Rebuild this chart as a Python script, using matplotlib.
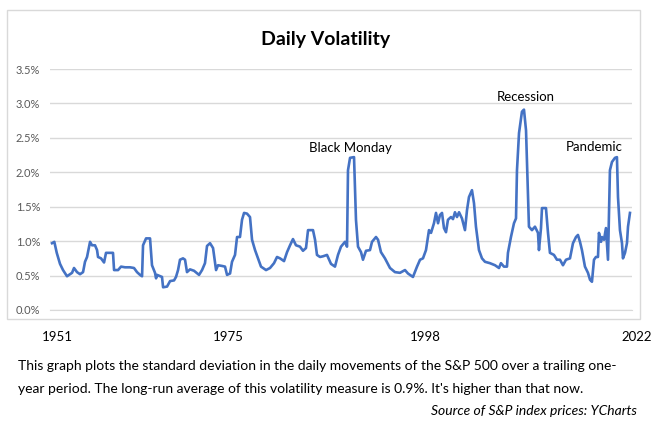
import numpy as np
import matplotlib
matplotlib.use('Agg')
import matplotlib.pyplot as plt
from matplotlib.patches import Rectangle
from matplotlib.ticker import FuncFormatter

plt.rcParams['font.family'] = ['Lato', 'DejaVu Sans']

# trailing one-year std dev of daily S&P 500 moves, in percent
years = [1951.0, 1951.28, 1951.58, 1951.98, 1952.35, 1952.84, 1953.46, 1953.70, 1954.07, 1954.44,
         1954.81, 1955.05, 1955.30, 1955.67, 1955.91, 1956.28, 1956.53, 1956.65, 1957.02, 1957.39,
         1957.63, 1958.12, 1958.49, 1958.62, 1959.11, 1959.48, 1959.97, 1960.58, 1961.07, 1961.44,
         1961.81, 1962.06, 1962.18, 1962.55, 1963.04, 1963.28, 1963.65, 1963.78, 1963.90, 1964.51,
         1964.64, 1965.13, 1965.50, 1965.99, 1966.23, 1966.48, 1966.72, 1967.09, 1967.34, 1967.58,
         1967.95, 1968.44, 1969.06, 1969.43, 1969.79, 1970.04, 1970.41, 1970.78, 1971.15, 1971.39,
         1971.88, 1972.25, 1972.50, 1972.87, 1973.11, 1973.48, 1973.73, 1974.09, 1974.34, 1974.59,
         1974.95, 1975.32, 1975.57, 1975.94, 1976.31, 1976.67, 1977.29, 1977.78, 1978.27, 1978.64,
         1979.01, 1979.50, 1979.87, 1980.24, 1980.60, 1980.97, 1981.46, 1981.83, 1982.20, 1982.45,
         1983.06, 1983.31, 1983.55, 1983.92, 1984.29, 1984.78, 1985.27, 1985.76, 1986.13, 1986.50,
         1986.99, 1987.24, 1987.36, 1987.61, 1988.10, 1988.34, 1988.59, 1988.96, 1989.20, 1989.57,
         1990.06, 1990.31, 1990.80, 1991.05, 1991.41, 1991.90, 1992.52, 1993.13, 1993.75, 1994.36,
         1994.73, 1995.34, 1995.84, 1996.21, 1996.57, 1996.94, 1997.31, 1997.56, 1997.92, 1998.17,
         1998.42, 1998.66, 1998.91, 1999.15, 1999.40, 1999.64, 2000.01, 2000.26, 2000.50, 2000.75,
         2001.00, 2001.36, 2001.73, 2001.98, 2002.22, 2002.59, 2002.84, 2003.08, 2003.45, 2003.82,
         2004.19, 2004.80, 2005.42, 2005.91, 2006.15, 2006.52, 2006.89, 2007.01, 2007.38, 2007.75,
         2008.00, 2008.12, 2008.37, 2008.73, 2008.98, 2009.23, 2009.47, 2009.59, 2009.96, 2010.33,
         2010.70, 2010.82, 2011.07, 2011.19, 2011.68, 2011.93, 2012.17, 2012.66, 2013.03, 2013.40,
         2013.77, 2014.14, 2014.63, 2015.00, 2015.37, 2015.61, 2015.86, 2016.10, 2016.47, 2016.84,
         2017.09, 2017.33, 2017.58, 2017.82, 2018.07, 2018.19, 2018.44, 2018.56, 2018.81, 2019.05,
         2019.30, 2019.54, 2019.79, 2020.16, 2020.40, 2020.53, 2020.77, 2021.02, 2021.14, 2021.39,
         2021.63, 2021.76, 2022.0]
vol = [0.97, 0.99, 0.83, 0.67, 0.58, 0.49, 0.54, 0.61, 0.55, 0.52,
       0.55, 0.70, 0.77, 0.99, 0.94, 0.94, 0.87, 0.77, 0.75, 0.69,
       0.83, 0.83, 0.83, 0.58, 0.58, 0.63, 0.62, 0.62, 0.61, 0.55,
       0.51, 0.49, 0.94, 1.04, 1.04, 0.65, 0.54, 0.46, 0.51, 0.48,
       0.33, 0.34, 0.42, 0.43, 0.48, 0.58, 0.73, 0.75, 0.73, 0.55,
       0.59, 0.57, 0.51, 0.58, 0.68, 0.93, 0.97, 0.90, 0.58, 0.65,
       0.64, 0.63, 0.51, 0.53, 0.70, 0.80, 1.06, 1.06, 1.31, 1.41,
       1.40, 1.35, 1.02, 0.87, 0.75, 0.63, 0.58, 0.61, 0.68, 0.77,
       0.75, 0.71, 0.84, 0.94, 1.03, 0.94, 0.92, 0.86, 0.90, 1.16,
       1.16, 1.02, 0.80, 0.77, 0.78, 0.80, 0.67, 0.63, 0.80, 0.92,
       0.99, 0.92, 2.03, 2.21, 2.22, 1.31, 0.92, 0.84, 0.73, 0.86,
       0.87, 0.99, 1.06, 1.02, 0.84, 0.75, 0.61, 0.55, 0.54, 0.58,
       0.53, 0.48, 0.63, 0.73, 0.75, 0.87, 1.16, 1.12, 1.26, 1.41,
       1.26, 1.38, 1.41, 1.19, 1.13, 1.31, 1.35, 1.32, 1.42, 1.35,
       1.42, 1.33, 1.16, 1.45, 1.64, 1.74, 1.55, 1.21, 0.87, 0.75,
       0.70, 0.68, 0.65, 0.61, 0.68, 0.63, 0.63, 0.83, 1.06, 1.26,
       1.33, 2.03, 2.57, 2.88, 2.91, 2.61, 1.70, 1.21, 1.16, 1.21,
       1.12, 0.87, 1.19, 1.48, 1.48, 1.12, 0.83, 0.80, 0.73, 0.73,
       0.65, 0.73, 0.75, 0.97, 1.06, 1.09, 0.99, 0.87, 0.63, 0.54,
       0.44, 0.41, 0.73, 0.77, 0.77, 1.12, 0.99, 1.06, 1.02, 1.19,
       0.73, 2.03, 2.15, 2.21, 2.22, 1.64, 1.16, 0.97, 0.75, 0.83,
       0.97, 1.21, 1.41]

events = ['Black Monday', 'Recession', 'Pandemic']
event_x = [1987.6, 2009.2, 2017.6]
event_y = [2.35, 3.09, 2.37]

year_labels = ['1951', '1975', '1998', '2022']

W, H = 651, 432
fig = plt.figure(figsize=(W / 100, H / 100), dpi=100)
fig.patch.set_facecolor('white')

# light chart frame like the Excel chart area
fig.patches.append(Rectangle((7 / W, 1 - 319 / H), 633 / W, 309 / H, transform=fig.transFigure,
                             fill=False, edgecolor='#d9d9d9', linewidth=1.0))

ax = fig.add_axes([50 / W, 1 - 310 / H, 582 / W, 241 / H])
ax.plot(years, vol, color='#4472c4', linewidth=1.9, solid_joinstyle='round')
ax.set_ylim(0, 3.5)
ax.set_xlim(1950.75, 2022.25)
ax.set_yticks(np.arange(0, 3.51, 0.5))
ax.yaxis.set_major_formatter(FuncFormatter(lambda v, p: '%.1f%%' % v))
ax.set_xticks([])
ax.grid(axis='y', color='#d9d9d9', linewidth=1.0)
ax.set_axisbelow(True)
for s in ['top', 'right', 'left']:
    ax.spines[s].set_visible(False)
ax.spines['bottom'].set_color('#d9d9d9')
ax.tick_params(axis='y', length=0, labelsize=8, labelcolor='#595959', pad=7)

for name, ex, ey in zip(events, event_x, event_y):
    ax.text(ex, ey, name, ha='center', va='center', fontsize=9.5, color='black')

fig.text(326 / W, 1 - 40 / H, 'Daily Volatility', ha='center', va='center',
         fontsize=14, fontweight='bold')

label_px = [57, 228, 425, 637]
for lab, px in zip(year_labels, label_px):
    fig.text(px / W, 1 - 337 / H, lab, ha='center', va='center', fontsize=9.5)

fig.text(18 / W, 1 - 366 / H,
         'This graph plots the standard deviation in the daily movements of the S&P 500 over a trailing one-',
         ha='left', va='center', fontsize=10)
fig.text(18 / W, 1 - 389 / H,
         "year period. The long-run average of this volatility measure is 0.9%. It's higher than that now.",
         ha='left', va='center', fontsize=10)
fig.text(637 / W, 1 - 411 / H, 'Source of S&P index prices: YCharts',
         ha='right', va='center', fontsize=10, style='italic')

fig.savefig('out.png', dpi=100)
